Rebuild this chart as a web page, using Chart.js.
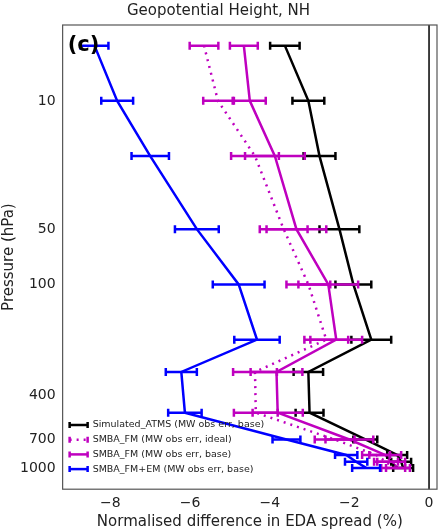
<!DOCTYPE html>
<html><head><meta charset="utf-8">
<script src="https://cdn.jsdelivr.net/npm/chart.js@4"></script>
<style>html,body{margin:0;padding:0;background:#fff}#w{width:441px;height:531px}</style>
</head><body><div id="w"><canvas id="c"></canvas></div>
<script>
const pressure = [5,10,20,50,100,200,300,500,700,850,925,1000];
const yTicks = [10,50,100,400,700,1000];
const xTicks = [-8,-6,-4,-2,0];
const atms = [-3.62,-3.03,-2.75,-2.25,-1.9,-1.45,-3.03,-3.0,-1.6,-0.8,-0.7,-0.65];
const atmsErr = [0.37,0.4,0.4,0.5,0.45,0.5,0.37,0.35,0.3,0.25,0.25,0.25];
const ideal = [-5.65,-5.3,-4.37,-3.65,-3.03,-2.58,-4.37,-4.35,-2.37,-1.33,-1.08,-0.9];
const idealErr = [0.36,0.37,0.6,0.6,0.55,0.55,0.55,0.55,0.5,0.35,0.3,0.3];
const base = [-4.65,-4.5,-3.87,-3.33,-2.53,-2.33,-3.83,-3.8,-2.0,-1.1,-0.95,-0.78];
const baseErr = [0.35,0.4,0.75,0.75,0.75,0.65,0.65,0.63,0.6,0.4,0.35,0.3];
const em = [-8.4,-7.83,-7.0,-5.83,-4.78,-4.32,-6.22,-6.13,-3.58,-2.08,-1.83,-1.58];
const emErr = [0.35,0.4,0.47,0.55,0.65,0.57,0.39,0.42,0.35,0.28,0.28,0.35];

const mk = (label, vals, errs, color, dash) => ({
  label, data: vals.map((v,i)=>({x:v,y:pressure[i]})), errs,
  borderColor: color, backgroundColor: color, borderWidth: 2.5,
  borderDash: dash || [], pointRadius: 0, showLine: true, tension: 0
});
const datasets = [
  mk('Simulated_ATMS (MW obs err, base)', atms, atmsErr, '#000000'),
  mk('SMBA_FM (MW obs err, ideal)', ideal, idealErr, '#bf00bf', [2,5]),
  mk('SMBA_FM (MW obs err, base)', base, baseErr, '#bf00bf'),
  mk('SMBA_FM+EM (MW obs err, base)', em, emErr, '#0000ff')
];

const extra = {
  id: 'extra',
  afterDatasetsDraw(chart) {
    const {ctx, chartArea: a, scales: {x, y}} = chart;
    ctx.save();
    chart.data.datasets.forEach(ds => {
      ctx.strokeStyle = ds.borderColor; ctx.lineWidth = 2.5; ctx.setLineDash([]);
      ds.data.forEach((p,i) => {
        const e = ds.errs[i], py = y.getPixelForValue(p.y);
        const x1 = x.getPixelForValue(p.x - e), x2 = x.getPixelForValue(p.x + e);
        ctx.beginPath(); ctx.moveTo(x1,py); ctx.lineTo(x2,py);
        ctx.moveTo(x1,py-4); ctx.lineTo(x1,py+4); ctx.moveTo(x2,py-4); ctx.lineTo(x2,py+4);
        ctx.stroke();
      });
    });
    ctx.strokeStyle = '#000'; ctx.lineWidth = 1.5;
    const zx = x.getPixelForValue(0);
    ctx.beginPath(); ctx.moveTo(zx,a.top); ctx.lineTo(zx,a.bottom); ctx.stroke();
    ctx.strokeStyle = '#555'; ctx.lineWidth = 1.2;
    ctx.strokeRect(a.left, a.top, a.right-a.left, a.bottom-a.top);
    ctx.fillStyle = '#000'; ctx.font = 'bold 21px "DejaVu Sans"'; ctx.textBaseline = 'middle';
    ctx.fillText('(c)', a.left + 5, 46);
    ctx.font = '9.5px "DejaVu Sans"';
    chart.data.datasets.forEach((ds,i) => {
      const ly = 425 + i*14.7, lx = a.left + 7;
      ctx.strokeStyle = ds.borderColor; ctx.lineWidth = 2.5; ctx.setLineDash(ds.borderDash);
      ctx.beginPath(); ctx.moveTo(lx,ly); ctx.lineTo(lx+18,ly); ctx.stroke();
      ctx.setLineDash([]);
      ctx.beginPath(); ctx.moveTo(lx,ly-3); ctx.lineTo(lx,ly+3); ctx.moveTo(lx+18,ly-3); ctx.lineTo(lx+18,ly+3); ctx.stroke();
      ctx.fillStyle = '#222'; ctx.fillText(ds.label, lx+23, ly);
    });
    ctx.restore();
  }
};

new Chart(document.getElementById('c'), {
  type: 'scatter',
  data: { datasets },
  plugins: [extra],
  options: {
    responsive: true, maintainAspectRatio: false, animation: false,
    layout: { padding: { top: 0, right: 4, left: 0, bottom: 0 } },
    plugins: {
      legend: { display: false }, tooltip: { enabled: false },
      title: { display: true, text: 'Geopotential Height, NH', color: '#222',
        font: { size: 15, family: 'DejaVu Sans', weight: 'normal' }, padding: { top: 2, bottom: 5 } }
    },
    scales: {
      x: {
        type: 'linear', min: -9.2, max: 0.2,
        afterBuildTicks: s => { s.ticks = xTicks.map(v => ({value: v})); },
        ticks: { color: '#222', padding: 1, font: { size: 14, family: 'DejaVu Sans' }, callback: v => v === 0 ? '0' : '\u2212' + Math.abs(v) },
        grid: { display: false, tickLength: 5 },
        border: { display: false },
        title: { display: true, text: 'Normalised difference in EDA spread (%)', color: '#222',
          font: { size: 15, family: 'DejaVu Sans' }, padding: { top: 0, bottom: 0 } }
      },
      y: {
        type: 'logarithmic', reverse: true, min: 3.86, max: 1306,
        afterBuildTicks: s => { s.ticks = yTicks.map(v => ({value: v})); },
        ticks: { color: '#222', padding: 2, font: { size: 14, family: 'DejaVu Sans' }, callback: v => String(v) },
        grid: { display: false, tickLength: 5 },
        border: { display: false },
        title: { display: true, text: 'Pressure (hPa)', color: '#222',
          font: { size: 15, family: 'DejaVu Sans' }, padding: { top: 0, bottom: 0 } }
      }
    }
  }
});
</script></body></html>
